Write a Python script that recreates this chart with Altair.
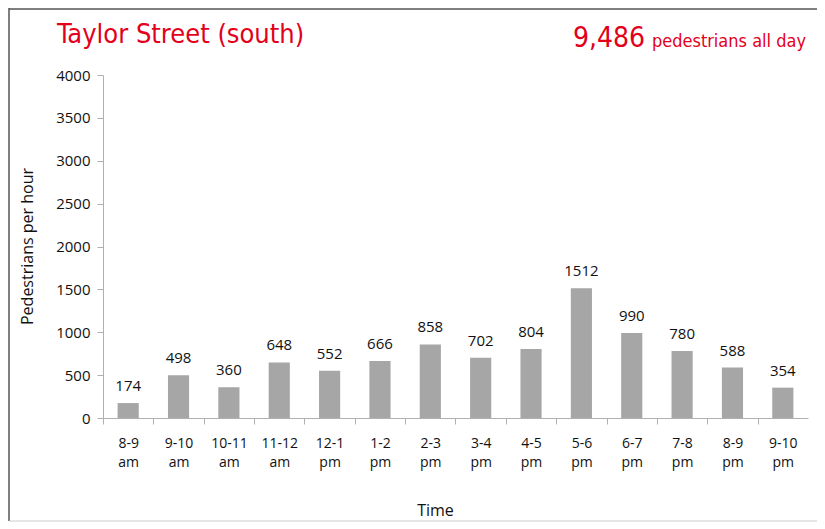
import altair as alt
import pandas as pd

hours = ["8-9 am", "9-10 am", "10-11 am", "11-12 am", "12-1 pm", "1-2 pm", "2-3 pm",
         "3-4 pm", "4-5 pm", "5-6 pm", "6-7 pm", "7-8 pm", "8-9 pm", "9-10 pm"]
counts = [174, 498, 360, 648, 552, 666, 858, 702, 804, 1512, 990, 780, 588, 354]
title_text = "Taylor Street (south)"
total_text = "9,486"
total_suffix = "pedestrians all day"

df = pd.DataFrame({"hour": hours, "count": counts})

RED = "#e2001a"
FONT = "Open Sans"
TFONT = "'Liberation Sans Narrow', 'DejaVu Sans Condensed', 'Roboto Condensed', Roboto"
W, H = 705, 343

x = alt.X("hour:N", sort=hours,
          scale=alt.Scale(paddingInner=0.58, paddingOuter=0.29),
          axis=alt.Axis(title="Time", labelAngle=0,
                        labelExpr="split(datum.label, ' ')",
                        labelLineHeight=19, labelPadding=12, labelFontSize=14,
                        tickSize=6, tickOffset=-25.2, labelOffset=25.2,
                        tickColor="#b0b0b0", domainColor="#b0b0b0",
                        titleX=332, titleY=97, titleBaseline="alphabetic",
                        titleFontSize=16, titleFontWeight="normal"))
y = alt.Y("count:Q", scale=alt.Scale(domain=[0, 4000]),
          axis=alt.Axis(title="Pedestrians per hour", values=list(range(0, 4001, 500)),
                        format="d",
                        grid=False, tickSize=6, labelPadding=7, labelFontSize=15,
                        tickColor="#b0b0b0", domainColor="#b0b0b0",
                        titleX=-71, titleY=171, titleBaseline="alphabetic",
                        titleAlign="center", titleFontSize=16, titleFontWeight="normal"))

base = alt.Chart(df)
bars = base.mark_bar(color="#a6a6a6").encode(x=x, y=y)
labels = base.mark_text(dy=-12, baseline="alphabetic", fontSize=15, font=FONT,
                        color="#111").encode(x=x, y=y, text="count:Q")

tdf = pd.DataFrame({"t": [title_text]})
title_mark = alt.Chart(tdf).mark_text(align="left", baseline="alphabetic",
                                      fontSize=27, font=TFONT,
                                      color=RED).encode(
    x=alt.value(-46), y=alt.value(-32), text="t:N")
tot_mark = alt.Chart(pd.DataFrame({"t": [total_text]})).mark_text(
    align="right", baseline="alphabetic", fontSize=28, font=TFONT,
    color=RED).encode(x=alt.value(542), y=alt.value(-28), text="t:N")
suf_mark = alt.Chart(pd.DataFrame({"t": [total_suffix]})).mark_text(
    align="right", baseline="alphabetic", fontSize=18, font=TFONT,
    color=RED).encode(x=alt.value(703), y=alt.value(-28), text="t:N")

frame_left = alt.Chart(tdf).mark_rule(color="#555", strokeWidth=1.5).encode(
    x=alt.value(-94), y=alt.value(-67), y2=alt.value(446))
frame_top = alt.Chart(tdf).mark_rule(color="#555", strokeWidth=1.5).encode(
    x=alt.value(-94), x2=alt.value(714), y=alt.value(-66))
frame_bottom = alt.Chart(tdf).mark_rule(color="#ccc", strokeWidth=1).encode(
    x=alt.value(-94), x2=alt.value(714), y=alt.value(446))

chart = alt.layer(bars, labels, title_mark, tot_mark, suf_mark,
                  frame_left, frame_top, frame_bottom).properties(
    width=W, height=H,
    autosize=alt.AutoSizeParams(type="none"),
    padding={"left": 95, "top": 67, "right": 9, "bottom": 104},
).configure_view(stroke=None).configure_axis(
    labelFont=FONT, titleFont=FONT, labelColor="#111", titleColor="#111"
)

chart.save("out.html", embed_options={"renderer": "svg", "actions": False})
